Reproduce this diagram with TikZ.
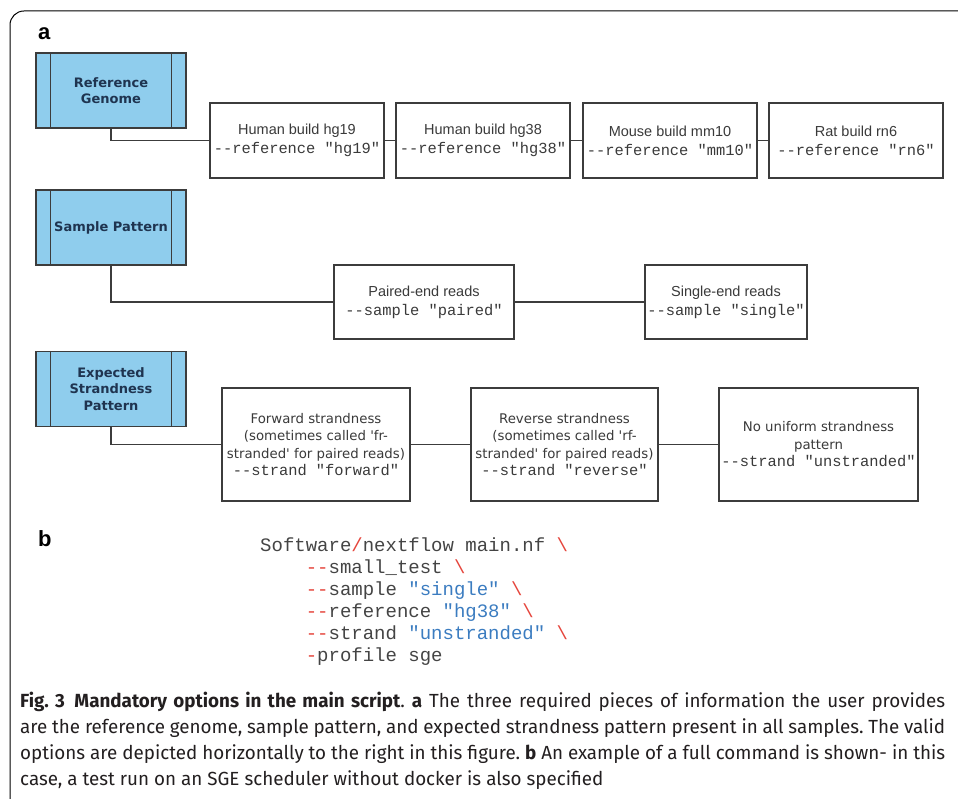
\documentclass[tikz,border=0pt]{standalone}
\usepackage{fontspec}
\setmainfont{Liberation Sans}
\newfontfamily\boxfont{Liberation Sans}
\newfontfamily\monofont{Liberation Mono}
\newfontfamily\vfont{DejaVu Sans}
\newfontfamily\capfont[FakeStretch=0.99]{Fira Sans}
\definecolor{bluefill}{HTML}{8FCDED}
\definecolor{navy}{HTML}{1F3450}
\definecolor{boxline}{HTML}{3C3C3C}
\definecolor{txtgray}{HTML}{3A3A3A}
\definecolor{codegray}{HTML}{444444}
\definecolor{codered}{HTML}{E5453C}
\definecolor{codeblue}{HTML}{3B7CC0}
\definecolor{captxt}{HTML}{231F20}
\newcommand{\mono}[1]{{\monofont\fontsize{15.4}{17}\selectfont #1}}
\newcommand{\rd}[1]{\textcolor{codered}{#1}}
\newcommand{\bl}[1]{\textcolor{codeblue}{#1}}
\frenchspacing
\tikzset{
  bluebox/.style={draw=boxline, fill=bluefill, line width=1.2pt, minimum width=150pt,
    minimum height=75pt, inner sep=0pt, align=center, text=navy,
    font=\vfont\bfseries\fontsize{13}{16.5}\selectfont},
  optbox/.style={draw=boxline, fill=white, line width=1.2pt, inner sep=0pt, align=center,
    text=txtgray},
  refbox/.style={optbox, minimum width=174pt, minimum height=75pt,
    font=\boxfont\fontsize{14.5}{19}\selectfont},
  sampbox/.style={optbox, minimum height=74pt,
    font=\boxfont\fontsize{14.5}{19}\selectfont},
  strbox/.style={optbox, minimum height=113pt,
    font=\vfont\fontsize{13.3}{17.5}\selectfont},
  conn/.style={draw=boxline, line width=1.2pt},
  panel/.style={font=\boxfont\bfseries\fontsize{22}{24}\selectfont, inner sep=0pt, anchor=base west},
  codeline/.style={font=\monofont\fontsize{19}{22}\selectfont, text=codegray, inner sep=0pt, anchor=base west},
  capline/.style={font=\capfont\fontsize{19}{26}\selectfont, text=captxt, inner sep=0pt, anchor=base west}
}
\begin{document}
\begin{tikzpicture}[x=1pt,y=-1pt]
\useasboundingbox (0,0) rectangle (958,799);
% frame
\draw[black, line width=1pt, rounded corners=14pt] (10,805) -- (10,11) -- (965,11);
% panel labels
\node[panel] (la) at (38,40) {a};
\node[panel] (lb) at (38,546) {b};
% blue boxes
\node[bluebox] (rg) at (111,90.5) {Reference\\Genome};
\node[bluebox] (sp) at (111,227.5) {Sample Pattern};
\node[bluebox] (es) at (111,389) {Expected\\Strandness\\Pattern};
\foreach \b in {rg,sp,es}{
  \draw[boxline, line width=1.2pt] ([xshift=15pt]\b.north west) -- ([xshift=15pt]\b.south west);
  \draw[boxline, line width=1.2pt] ([xshift=-15pt]\b.north east) -- ([xshift=-15pt]\b.south east);
}
% reference genome options
\node[refbox] (hg19) at (297,140.5) {Human build hg19\\\mono{-{}-reference "hg19"}};
\node[refbox] (hg38) at (483,140.5) {Human build hg38\\\mono{-{}-reference "hg38"}};
\node[refbox] (mm10) at (670,140.5) {Mouse build mm10\\\mono{-{}-reference "mm10"}};
\node[refbox] (rn6) at (856,140.5) {Rat build rn6\\\mono{-{}-reference "rn6"}};
% sample options
\node[sampbox, minimum width=180pt] (pe) at (424,302) {Paired-end reads\\\mono{-{}-sample "paired"}};
\node[sampbox, minimum width=162pt] (se) at (726,302) {Single-end reads\\\mono{-{}-sample "single"}};
% strandness options
\node[strbox, minimum width=188pt] (fw) at (316,444.5) {Forward strandness\\(sometimes called 'fr-\\stranded' for paired reads)\\\mono{-{}-strand "forward"}};
\node[strbox, minimum width=187pt] (rv) at (564.5,444.5) {Reverse strandness\\(sometimes called 'rf-\\stranded' for paired reads)\\\mono{-{}-strand "reverse"}};
\node[strbox, minimum width=199pt] (nu) at (818.5,444.5) {No uniform strandness\\pattern\\\mono{-{}-strand "unstranded"}};
% connectors
\draw[conn] (rg.south) |- (hg19.west);
\draw[conn] (hg19.east) -- (hg38.west);
\draw[conn] (hg38.east) -- (mm10.west);
\draw[conn] (mm10.east) -- (rn6.west);
\draw[conn] (sp.south) |- (pe.west);
\draw[conn] (pe.east) -- (se.west);
\draw[conn] (es.south) |- (fw.west);
\draw[conn] (fw.east) -- (rv.west);
\draw[conn] (rv.east) -- (nu.west);
% code block
\node[codeline] (k1) at (260,551) {Software\rd{/}nextflow main.nf \rd{\textbackslash}};
\node[codeline] (k2) at (260,573) {\hphantom{1234}\rd{-{}-}small\_test \rd{\textbackslash}};
\node[codeline] (k3) at (260,595) {\hphantom{1234}\rd{-{}-}sample \bl{"single"} \rd{\textbackslash}};
\node[codeline] (k4) at (260,617) {\hphantom{1234}\rd{-{}-}reference \bl{"hg38"} \rd{\textbackslash}};
\node[codeline] (k5) at (260,639) {\hphantom{1234}\rd{-{}-}strand \bl{"unstranded"} \rd{\textbackslash}};
\node[codeline] (k6) at (260,661) {\hphantom{1234}\rd{-}profile sge};
% caption
\node[capline] (c1) at (20,707) {\makebox[925pt][s]{\textbf{Fig. 3\enspace Mandatory options in the main script}. \textbf{a} The three required pieces of information the user provides}};
\node[capline] (c2) at (20,733) {\makebox[925pt][s]{are the reference genome, sample pattern, and expected strandness pattern present in all samples. The valid}};
\node[capline] (c3) at (20,759) {\makebox[925pt][s]{options are depicted horizontally to the right in this figure. \textbf{b} An example of a full command is shown- in this}};
\node[capline] (c4) at (20,785) {case, a test run on an SGE scheduler without docker is also specified};
\end{tikzpicture}
\end{document}
